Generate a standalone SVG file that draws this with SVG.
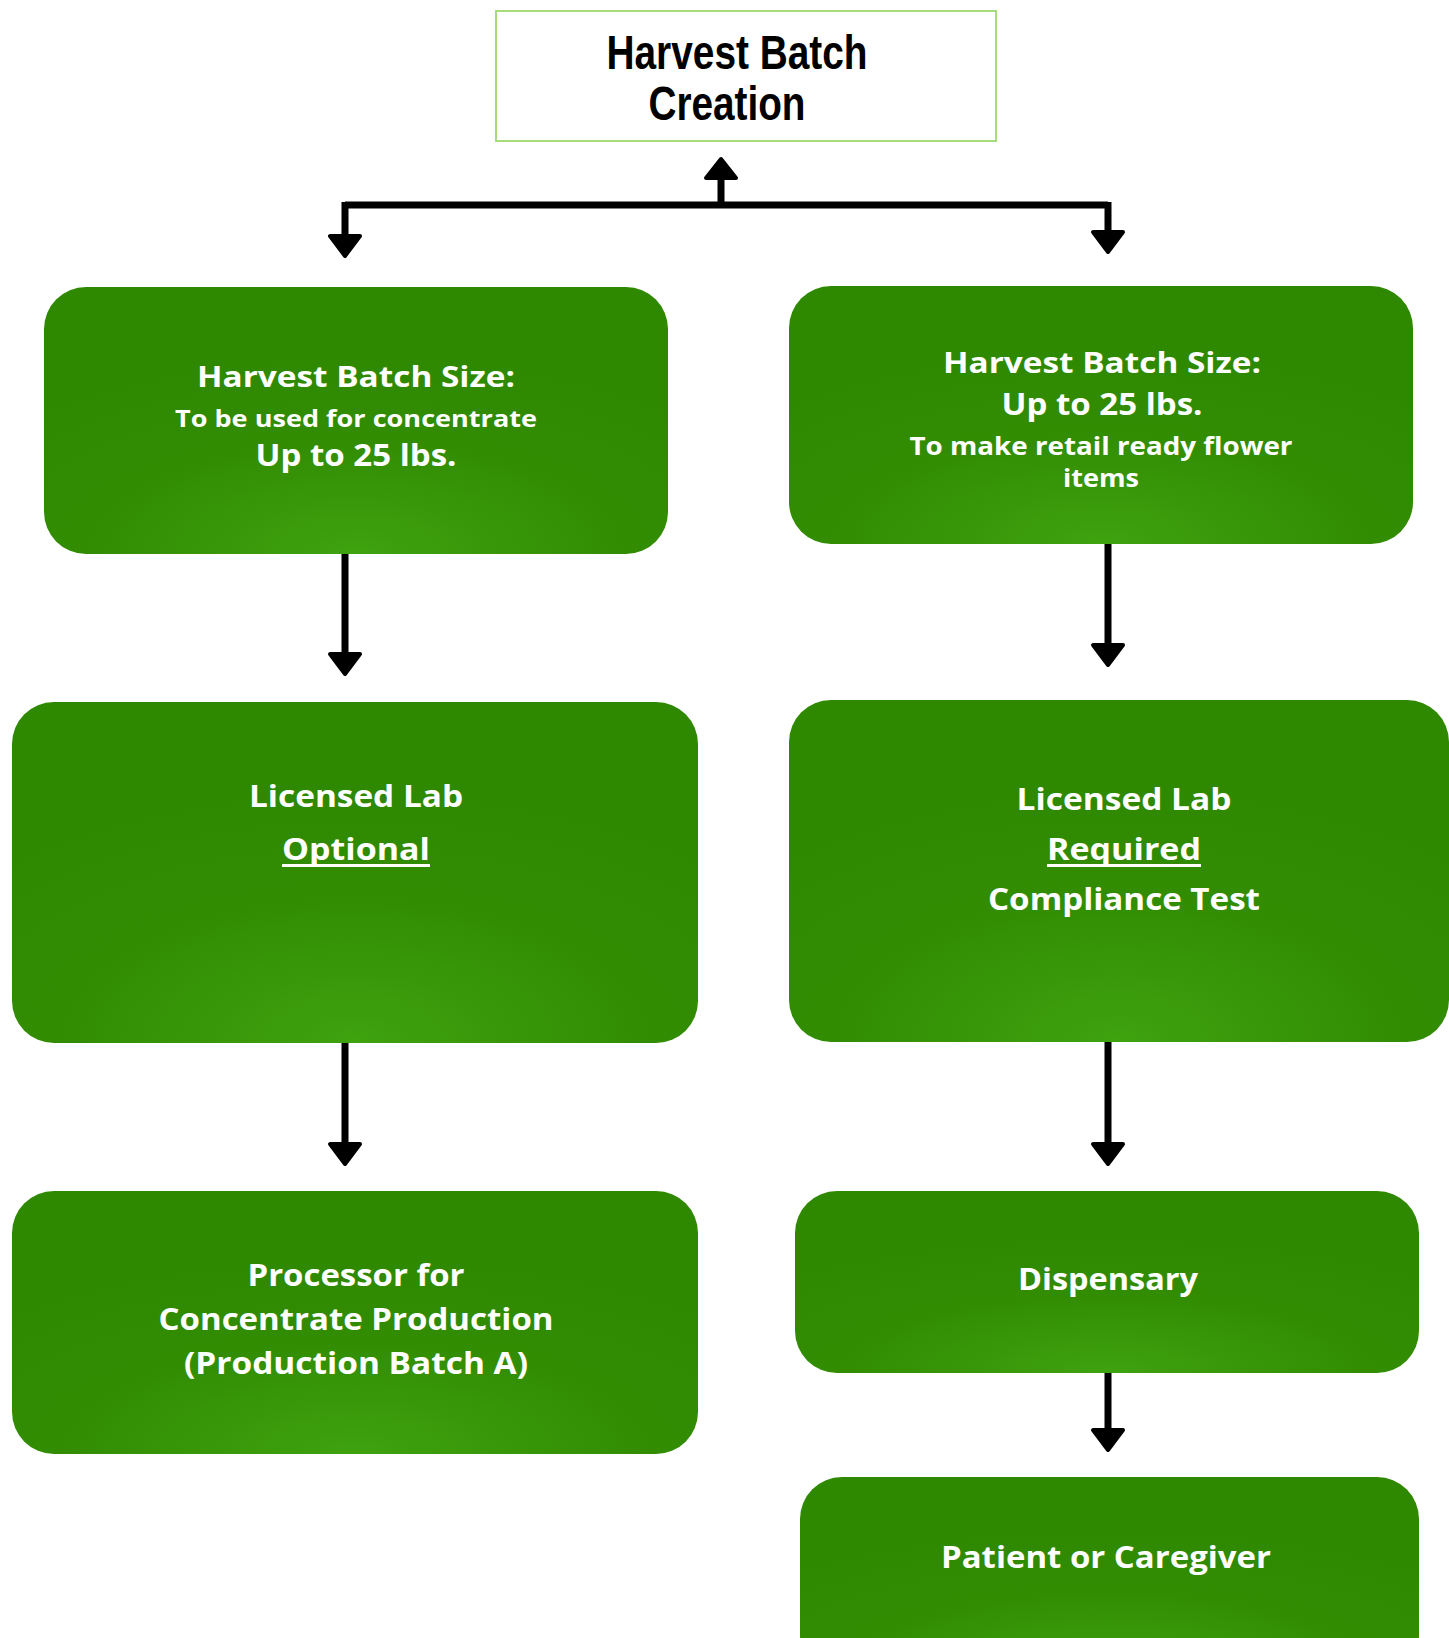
<svg xmlns="http://www.w3.org/2000/svg" width="1449" height="1638" viewBox="0 0 1449 1638">
<style>
.g{fill:url(#grad)}
.t{font-family:"Open Sans","DejaVu Sans",sans-serif;font-weight:700;fill:#ffffff;text-anchor:middle}
.h{font-family:"Liberation Sans","DejaVu Sans",sans-serif;font-weight:700;fill:#000000;text-anchor:middle}
.ln{stroke:#000;stroke-width:7;fill:none}
.ah{fill:#000;stroke:#000;stroke-width:4;stroke-linejoin:round}
</style>
<defs>
<radialGradient id="grad" cx="0.5" cy="1" r="0.75" fx="0.5" fy="1">
<stop offset="0" stop-color="#3fa20f"/>
<stop offset="0.55" stop-color="#328d03"/>
<stop offset="1" stop-color="#2e8900"/>
</radialGradient>
</defs>
<rect width="1449" height="1638" fill="#ffffff"/>

<g id="connectors">
<path class="ln" d="M345 205 H1108"/>
<path class="ln" d="M721 208 V175"/>
<path class="ah" d="M721 159 L706 178 L736 178 Z"/>
<path class="ln" d="M345 202 V238"/>
<path class="ah" d="M345 256 L330 236 L360 236 Z"/>
<path class="ln" d="M1108 202 V234"/>
<path class="ah" d="M1108 252 L1093 232 L1123 232 Z"/>
<path class="ln" d="M345 554 V656"/>
<path class="ah" d="M345 674 L330 654 L360 654 Z"/>
<path class="ln" d="M1108 544 V647"/>
<path class="ah" d="M1108 665 L1093 645 L1123 645 Z"/>
<path class="ln" d="M345 1043 V1146"/>
<path class="ah" d="M345 1164 L330 1144 L360 1144 Z"/>
<path class="ln" d="M1108 1042 V1146"/>
<path class="ah" d="M1108 1164 L1093 1144 L1123 1144 Z"/>
<path class="ln" d="M1108 1373 V1432"/>
<path class="ah" d="M1108 1450 L1093 1430 L1123 1430 Z"/>
</g>

<g id="node-harvest-batch-creation">
<rect x="496" y="11" width="500" height="130" fill="#ffffff" stroke="#a8dc78" stroke-width="2"/>
<text class="h" x="737" y="69" font-size="48" textLength="261" lengthAdjust="spacingAndGlyphs">Harvest Batch</text>
<text class="h" x="727" y="120" font-size="48" textLength="157" lengthAdjust="spacingAndGlyphs">Creation</text>
</g>

<g id="node-concentrate-batch">
<rect class="g" x="44" y="287" width="624" height="267" rx="42"/>
<text class="t" x="356" y="387" font-size="29" textLength="318" lengthAdjust="spacingAndGlyphs">Harvest  Batch  Size:</text>
<text class="t" x="356" y="427" font-size="24" textLength="362" lengthAdjust="spacingAndGlyphs">To be used for concentrate</text>
<text class="t" x="356" y="466" font-size="31" textLength="201" lengthAdjust="spacingAndGlyphs">Up to 25 lbs.</text>
</g>

<g id="node-flower-batch">
<rect class="g" x="789" y="286" width="624" height="258" rx="42"/>
<text class="t" x="1102" y="373" font-size="29" textLength="318" lengthAdjust="spacingAndGlyphs">Harvest  Batch  Size:</text>
<text class="t" x="1102" y="415" font-size="31" textLength="201" lengthAdjust="spacingAndGlyphs">Up to 25 lbs.</text>
<text class="t" x="1101" y="455" font-size="25" textLength="383" lengthAdjust="spacingAndGlyphs">To make retail ready flower</text>
<text class="t" x="1101" y="487" font-size="25" textLength="76" lengthAdjust="spacingAndGlyphs">items</text>
</g>

<g id="node-lab-optional">
<rect class="g" x="12" y="702" width="686" height="341" rx="42"/>
<text class="t" x="356" y="807" font-size="31" textLength="214" lengthAdjust="spacingAndGlyphs">Licensed Lab</text>
<text class="t" x="356" y="860" font-size="31" textLength="148" lengthAdjust="spacingAndGlyphs">Optional</text>
<rect x="282" y="864" width="148" height="3" fill="#ffffff"/>
</g>

<g id="node-lab-required">
<rect class="g" x="789" y="700" width="660" height="342" rx="42"/>
<text class="t" x="1124" y="810" font-size="31" textLength="215" lengthAdjust="spacingAndGlyphs">Licensed Lab</text>
<text class="t" x="1124" y="860" font-size="31" textLength="154" lengthAdjust="spacingAndGlyphs">Required</text>
<rect x="1047" y="864" width="154" height="3" fill="#ffffff"/>
<text class="t" x="1124" y="910" font-size="31" textLength="272" lengthAdjust="spacingAndGlyphs">Compliance Test</text>
</g>

<g id="node-processor">
<rect class="g" x="12" y="1191" width="686" height="263" rx="42"/>
<text class="t" x="356" y="1286" font-size="31" textLength="217" lengthAdjust="spacingAndGlyphs">Processor for</text>
<text class="t" x="356" y="1330" font-size="31" textLength="395" lengthAdjust="spacingAndGlyphs">Concentrate Production</text>
<text class="t" x="356" y="1374" font-size="31" textLength="344" lengthAdjust="spacingAndGlyphs">(Production Batch A)</text>
</g>

<g id="node-dispensary">
<rect class="g" x="795" y="1191" width="624" height="182" rx="42"/>
<text class="t" x="1108" y="1290" font-size="31" textLength="180" lengthAdjust="spacingAndGlyphs">Dispensary</text>
</g>

<g id="node-patient">
<rect class="g" x="800" y="1477" width="619" height="200" rx="42"/>
<text class="t" x="1106" y="1568" font-size="31" textLength="330" lengthAdjust="spacingAndGlyphs">Patient or Caregiver</text>
</g>
</svg>
